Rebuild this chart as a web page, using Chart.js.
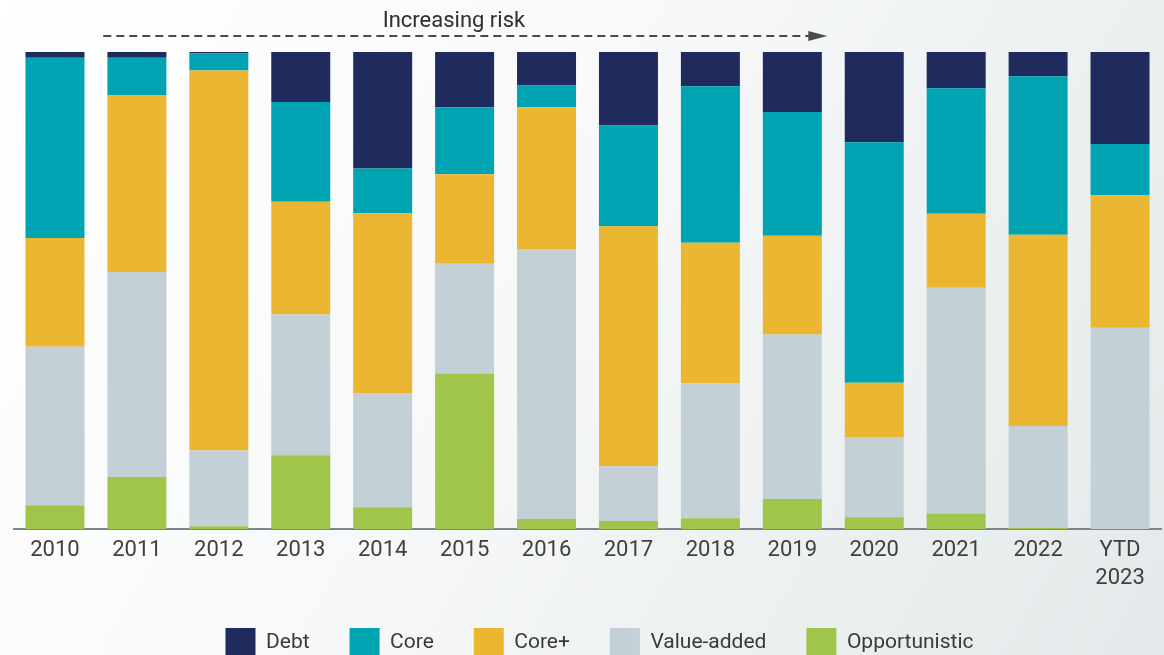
<!DOCTYPE html>
<html>
<head>
<meta charset="utf-8">
<script src="https://cdn.jsdelivr.net/npm/chart.js@4.4.1/dist/chart.umd.min.js"></script>
<style>
  html, body { margin: 0; padding: 0; overflow: hidden; }
  body {
    width: 1164px; height: 655px;
    background: linear-gradient(120deg, #ffffff 0%, #f8f9fa 40%, #e3e9ea 100%);
  }
  #wrap { position: relative; width: 1164px; height: 668px; }
</style>
</head>
<body>
<div id="wrap"><canvas id="chart_mix"></canvas></div>
<script>
const years = ['2010', '2011', '2012', '2013', '2014', '2015', '2016', '2017', '2018', '2019', '2020', '2021', '2022', ['YTD', '2023']];

// share of volume by strategy, per cent
const debt          = [1.2, 1.2, 0.3, 10.5, 24.4, 11.6, 7.0, 15.4, 7.2, 12.6, 18.9, 7.6, 5.1, 19.3];
const core          = [37.8, 7.9, 3.6, 20.9, 9.4, 14.0, 4.6, 21.1, 32.8, 25.9, 50.4, 26.3, 33.2, 10.7];
const corePlus      = [22.8, 37.0, 79.6, 23.6, 37.8, 18.8, 29.7, 50.3, 29.5, 20.7, 11.5, 15.5, 40.1, 27.8];
const valueAdded    = [33.2, 43.0, 15.9, 29.5, 23.8, 23.0, 56.6, 11.5, 28.2, 34.5, 16.7, 47.3, 21.3, 42.2];
const opportunistic = [5.0, 10.9, 0.6, 15.5, 4.6, 32.6, 2.1, 1.7, 2.3, 6.3, 2.5, 3.3, 0.3, 0];

const chart_mix = document.getElementById('chart_mix');

// dashed "Increasing risk" arrow above the bars
const riskArrow = {
  id: 'riskArrow',
  afterLayout(chart) {
    // nudge the legend row a little to the right
    chart.legend.left += 12;
    chart.legend.right += 12;
  },
  afterDraw(chart) {
    const { ctx, chartArea, scales: { x } } = chart;
    const step = x.getPixelForValue(1) - x.getPixelForValue(0);
    const x0 = x.getPixelForValue(1) - step * 0.41;
    const x1 = x.getPixelForValue(9) + step * 0.5 - 6;
    const y = chartArea.top - 16;
    ctx.save();
    ctx.strokeStyle = '#4a4a4a';
    ctx.fillStyle = '#4a4a4a';
    ctx.lineWidth = 2;
    ctx.setLineDash([8, 5]);
    ctx.beginPath();
    ctx.moveTo(x0, y);
    ctx.lineTo(x1 - 16, y);
    ctx.stroke();
    ctx.setLineDash([]);
    ctx.beginPath();
    ctx.moveTo(x1 - 19, y - 5);
    ctx.lineTo(x1, y);
    ctx.lineTo(x1 - 19, y + 5);
    ctx.closePath();
    ctx.fill();
    ctx.font = '22px Roboto';
    ctx.fillStyle = '#2e2e2e';
    ctx.textAlign = 'left';
    ctx.textBaseline = 'alphabetic';
    ctx.fillText('Increasing risk', x.getPixelForValue(4), chartArea.top - 25);
    ctx.restore();
  }
};

new Chart(chart_mix, {
  type: 'bar',
  data: {
    labels: years,
    datasets: [
      { label: 'Opportunistic', data: opportunistic, backgroundColor: '#a0c54b' },
      { label: 'Value-added', data: valueAdded, backgroundColor: '#c3d0d5' },
      { label: 'Core+', data: corePlus, backgroundColor: '#ebb632' },
      { label: 'Core', data: core, backgroundColor: '#00a3b1' },
      { label: 'Debt', data: debt, backgroundColor: '#1f2b5c' }
    ]
  },
  options: {
    responsive: true,
    maintainAspectRatio: false,
    animation: false,
    layout: { padding: { top: 52, left: 14, right: 3, bottom: 0 } },
    datasets: {
      bar: { barPercentage: 0.72, categoryPercentage: 1, borderWidth: 0 }
    },
    scales: {
      x: {
        stacked: true,
        grid: { display: false, drawTicks: false },
        border: { display: true, color: '#7a8690', width: 2 },
        ticks: {
          color: '#404040',
          padding: 7,
          font: { family: 'Roboto', size: 22, lineHeight: 1.27 }
        },
        afterFit(scale) {
          scale.height -= 11;
        }
      },
      y: {
        stacked: true,
        min: 0,
        max: 100,
        display: false
      }
    },
    plugins: {
      tooltip: { enabled: false },
      legend: {
        position: 'bottom',
        labels: {
          sort: (a, b) => b.datasetIndex - a.datasetIndex,
          boxWidth: 30,
          boxHeight: 30,
          padding: 40,
          color: '#3a3a3a',
          font: { family: 'Roboto', size: 21 }
        }
      }
    }
  },
  plugins: [riskArrow]
});
</script>
</body>
</html>
